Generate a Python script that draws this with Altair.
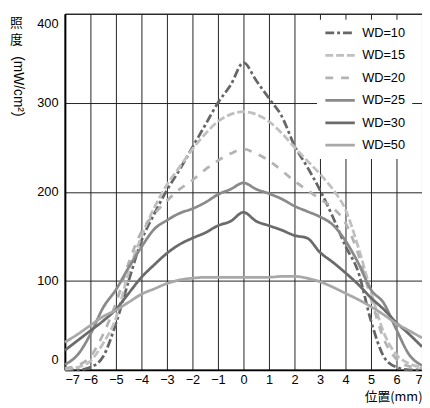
import altair as alt
import pandas as pd

# position (mm)
xs = [-7, -6.5, -6, -5.5, -5, -4.5, -4, -3.5, -3, -2.5, -2, -1.5, -1, -0.5, 0,
      0.5, 1, 1.5, 2, 2.5, 3, 3.5, 4, 4.5, 5, 5.5, 6, 6.5, 7]

wd10 = [0, 0, 3, 15, 52, 100, 145, 175, 202, 225, 250, 275, 300, 320, 345,
        325, 305, 285, 252, 228, 202, 172, 139, 110, 55, 15, 3, 0, 0]
wd15 = [1, 3, 10, 30, 58, 110, 150, 182, 208, 228, 248, 265, 279, 287, 290,
        287, 279, 266, 250, 235, 220, 203, 180, 138, 88, 42, 17, 7, 3]
wd20 = [2, 5, 15, 40, 75, 120, 155, 175, 190, 203, 213, 225, 235, 243, 248,
        243, 235, 224, 212, 202, 192, 182, 165, 130, 80, 35, 12, 4, 2]
wd25 = [6, 17, 40, 70, 90, 115, 138, 158, 168, 176, 181, 188, 197, 203, 210,
        203, 198, 192, 184, 178, 172, 163, 145, 120, 90, 75, 45, 17, 5]
wd30 = [22, 33, 44, 55, 68, 86, 104, 118, 131, 141, 148, 154, 162, 167, 177,
        167, 162, 157, 151, 148, 132, 121, 109, 96, 81, 68, 53, 40, 26]
wd50 = [31, 40, 50, 60, 67, 76, 85, 91, 97, 101, 103, 104, 104, 104, 104,
        104, 104, 105, 105, 103, 99, 93, 86, 79, 71, 62, 52, 44, 36]

series_names = ["WD=10", "WD=15", "WD=20", "WD=25", "WD=30", "WD=50"]
series_vals = [wd10, wd15, wd20, wd25, wd30, wd50]
colors = ["#666666", "#c0c0c0", "#b3b3b3", "#8a8a8a", "#6b6b6b", "#a8a8a8"]
dashes = [[9, 3, 3, 3], [8, 3], [8, 8], [1, 0], [1, 0], [1, 0]]
widths = [2.8, 2.8, 2.8, 2.8, 2.8, 3]

x_ticks = list(range(-7, 8))
y_ticks = [0, 100, 200, 300, 400]

rows = []
for name, vals in zip(series_names, series_vals):
    for x, v in zip(xs, vals):
        rows.append({"pos": x, "val": v, "WD": name})
df = pd.DataFrame(rows)

FONT = "Liberation Sans"
CJK = "Noto Sans CJK JP"
W, H = 364, 363

lines = alt.Chart(df).mark_line(interpolate="monotone").encode(
    x=alt.X("pos:Q", scale=alt.Scale(domain=[-7, 7], nice=False),
            axis=alt.Axis(values=x_ticks, format="d", title="位置(mm)",
                          titleFont=CJK, titleFontSize=13, titleFontWeight="normal",
                          titleColor="black", titleAnchor="end", titleAlign="right",
                          titleX=W, titleY=21, titleBaseline="top",
                          labelPadding=4, labelFontSize=13, labelColor="black",
                          labelFont=FONT, tickSize=0, grid=True)),
    y=alt.Y("val:Q", scale=alt.Scale(domain=[0, 400], nice=False),
            axis=alt.Axis(values=y_ticks, title=None, labelPadding=7,
                          labelFontSize=13, labelColor="black", labelFont=FONT,
                          tickSize=0, grid=True, labelFlush=True,
                          labelFlushOffset=-4)),
    color=alt.Color("WD:N", scale=alt.Scale(domain=series_names, range=colors),
                    legend=alt.Legend(title=None, orient="none", legendX=257,
                                      legendY=6, fillColor="white", padding=7,
                                      symbolType="stroke", symbolSize=900,
                                      clipHeight=13,
                                      labelFontSize=13, labelFont=FONT,
                                      labelColor="black", labelOffset=6,
                                      rowPadding=8.9, symbolStrokeWidth=3)),
    strokeDash=alt.StrokeDash("WD:N", scale=alt.Scale(domain=series_names, range=dashes),
                              legend=None),
    strokeWidth=alt.StrokeWidth("WD:N", scale=alt.Scale(domain=series_names, range=widths),
                                legend=None),
    detail="WD:N",
)

t1 = alt.Chart(pd.DataFrame({"t": ["照"]})).mark_text(
    font=CJK, fontSize=13, color="black", align="center", baseline="middle"
).encode(text="t:N", x=alt.value(-49.5), y=alt.value(9))
t2 = alt.Chart(pd.DataFrame({"t": ["度"]})).mark_text(
    font=CJK, fontSize=13, color="black", align="center", baseline="middle"
).encode(text="t:N", x=alt.value(-49.5), y=alt.value(27))
t3 = alt.Chart(pd.DataFrame({"t": ["(mW/cm²)"]})).mark_text(
    font=FONT, fontSize=14, color="black", align="center", baseline="middle", angle=90
).encode(text="t:N", x=alt.value(-48), y=alt.value(74))

chart = alt.layer(lines, t1, t2, t3).properties(
    width=W, height=H,
    autosize=alt.AutoSizeParams(type="none"),
    padding={"left": 58, "top": 2, "right": 0, "bottom": 36},
).configure_view(
    stroke="black", strokeWidth=1
).configure_axis(
    domainColor="black", domainWidth=2, gridColor="#222222", gridWidth=1,
    gridOpacity=1
)

chart.save("out.html", embed_options={"renderer": "svg", "actions": False})
